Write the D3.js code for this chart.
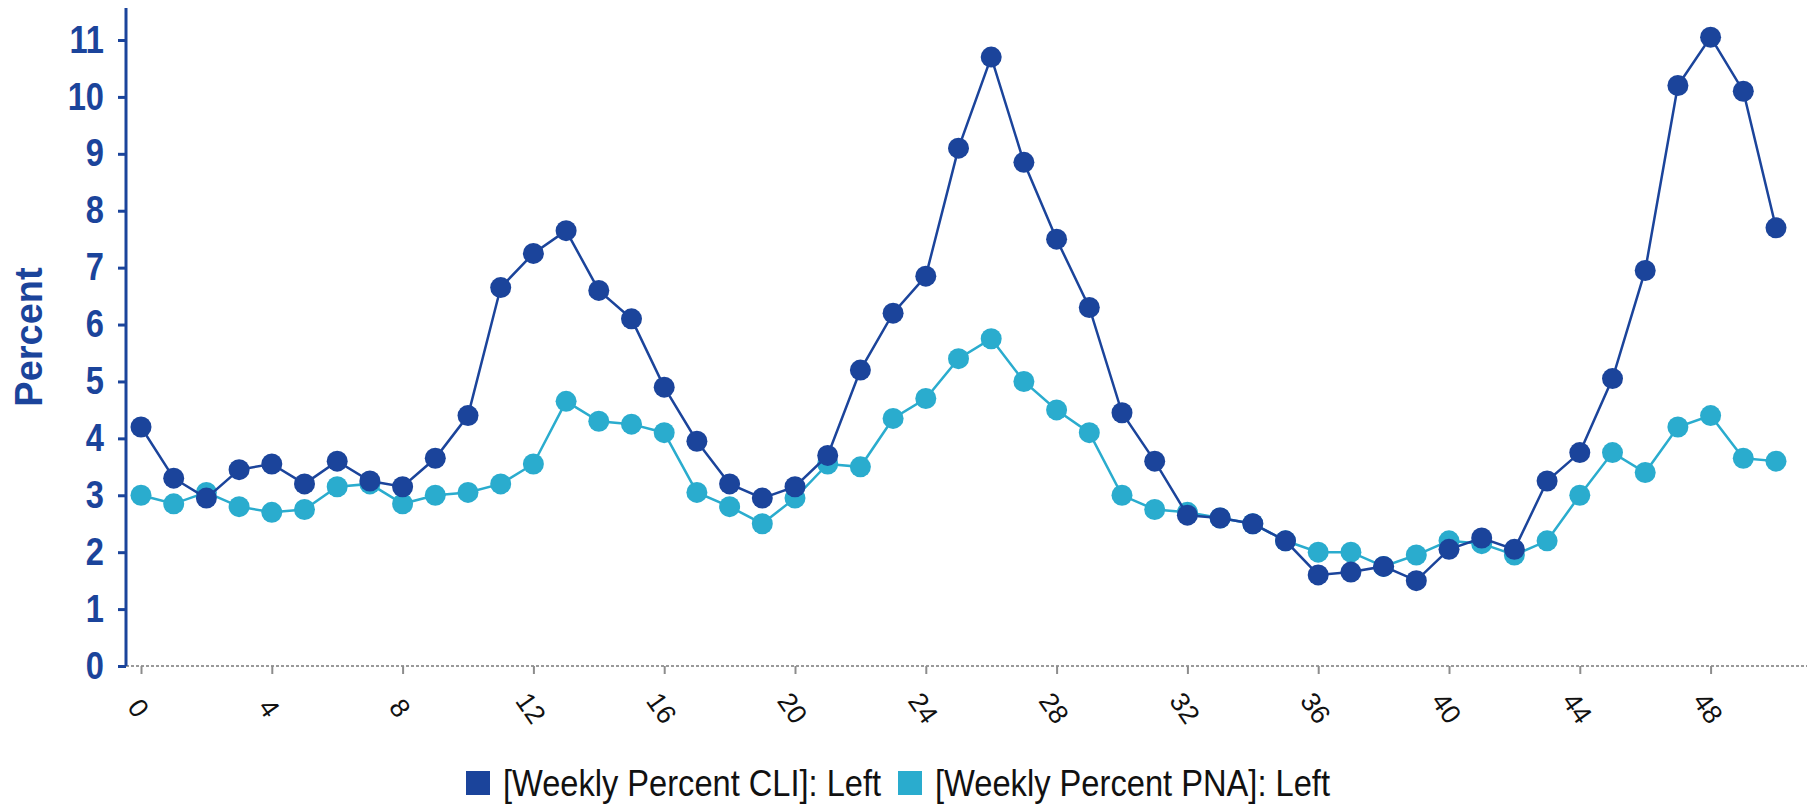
<!DOCTYPE html>
<html>
<head>
<meta charset="utf-8">
<script src="https://cdn.jsdelivr.net/npm/d3@7/dist/d3.min.js"></script>
<style>
  body { margin: 0; background: #ffffff; }
  text { font-family: "Liberation Sans", Arial, sans-serif; }
</style>
</head>
<body>
<div id="viz"></div>
<script>
// frame size and plot area
const F_WIDTH = 1807;
const F_HEIGHT = 804;
const MARGINS = {left: 141, right: 31, top: 40, bottom: 138};

const DARK = "#1b449b";
const LIGHT = "#2aacce";

// data
const WEEKS = [0, 1, 2, 3, 4, 5, 6, 7, 8, 9, 10, 11, 12, 13, 14, 15, 16, 17, 18, 19, 20,
               21, 22, 23, 24, 25, 26, 27, 28, 29, 30, 31, 32, 33, 34, 35, 36, 37, 38, 39, 40,
               41, 42, 43, 44, 45, 46, 47, 48, 49, 50];

const CLI = [4.2, 3.3, 2.95, 3.45, 3.55, 3.2, 3.6, 3.25, 3.15, 3.65, 4.4,
             6.65, 7.25, 7.65, 6.6, 6.1, 4.9, 3.95, 3.2, 2.95, 3.15,
             3.7, 5.2, 6.2, 6.85, 9.1, 10.7, 8.85, 7.5, 6.3, 4.45,
             3.6, 2.65, 2.6, 2.5, 2.2, 1.6, 1.65, 1.75, 1.5, 2.05,
             2.25, 2.05, 3.25, 3.75, 5.05, 6.95, 10.2, 11.05, 10.1, 7.7];

const PNA = [3.0, 2.85, 3.05, 2.8, 2.7, 2.75, 3.15, 3.2, 2.85, 3.0, 3.05,
             3.2, 3.55, 4.65, 4.3, 4.25, 4.1, 3.05, 2.8, 2.5, 2.95,
             3.55, 3.5, 4.35, 4.7, 5.4, 5.75, 5.0, 4.5, 4.1, 3.0,
             2.75, 2.7, 2.6, 2.5, 2.2, 2.0, 2.0, 1.75, 1.95, 2.2,
             2.15, 1.95, 2.2, 3.0, 3.75, 3.4, 4.2, 4.4, 3.65, 3.6];

const X_TICKS = [0, 4, 8, 12, 16, 20, 24, 28, 32, 36, 40, 44, 48];
const Y_TICKS = [0, 1, 2, 3, 4, 5, 6, 7, 8, 9, 10, 11];

const SERIES = [
  {name: "[Weekly Percent PNA]: Left", values: PNA, color: LIGHT},
  {name: "[Weekly Percent CLI]: Left", values: CLI, color: DARK}
];
const LEGEND_ORDER = [SERIES[1], SERIES[0]];

const FRAME = d3.select("#viz")
  .append("svg")
    .attr("width", F_WIDTH)
    .attr("height", F_HEIGHT);

// scales
const X_SCALE = d3.scaleLinear()
  .domain([0, 50])
  .range([MARGINS.left, F_WIDTH - MARGINS.right]);

const Y_SCALE = d3.scaleLinear()
  .domain([0, 11])
  .range([F_HEIGHT - MARGINS.bottom, MARGINS.top]);

const AXIS_X = 126;
const BASE_Y = Y_SCALE(0);

// x axis: grey dotted base line + ticks every 4
FRAME.append("line")
  .attr("x1", AXIS_X).attr("x2", F_WIDTH)
  .attr("y1", BASE_Y).attr("y2", BASE_Y)
  .attr("stroke", "#9a9a9a")
  .attr("stroke-width", 2)
  .attr("stroke-dasharray", "3,2");

const xAxis = FRAME.append("g")
  .attr("transform", "translate(0," + BASE_Y + ")")
  .call(d3.axisBottom(X_SCALE).tickValues(X_TICKS).tickSize(8));
xAxis.select(".domain").remove();
xAxis.selectAll(".tick line").attr("stroke", "#8c8c8c").attr("stroke-width", 2);
xAxis.selectAll(".tick text")
  .attr("fill", "#111")
  .style("font-size", "27px")
  .attr("text-anchor", "middle")
  .attr("x", 0)
  .attr("y", 0)
  .attr("dy", "0.35em")
  .attr("transform", "translate(-3,42) rotate(55)");

// y axis
FRAME.append("line")
  .attr("x1", AXIS_X).attr("x2", AXIS_X)
  .attr("y1", 8).attr("y2", BASE_Y)
  .attr("stroke", DARK)
  .attr("stroke-width", 3);

const Y_SQUEEZE = 0.86;
const yAxis = FRAME.append("g")
  .attr("transform", "translate(" + AXIS_X + ",0)")
  .call(d3.axisLeft(Y_SCALE).tickValues(Y_TICKS).tickSize(8).tickPadding(14));
yAxis.select(".domain").remove();
yAxis.selectAll(".tick line").attr("stroke", DARK).attr("stroke-width", 3);
yAxis.selectAll(".tick text")
  .attr("fill", DARK)
  .attr("x", -22 / Y_SQUEEZE)
  .attr("transform", "scale(" + Y_SQUEEZE + ",1)")
  .style("font-size", "38px")
  .style("font-weight", "bold");

FRAME.append("text")
  .attr("transform", "translate(42," + 337 + ") rotate(-90)")
  .attr("text-anchor", "middle")
  .attr("fill", DARK)
  .style("font-size", "38px")
  .style("font-weight", "bold")
  .text("Percent");

// lines and markers
const LINE = d3.line()
  .x((d, i) => X_SCALE(WEEKS[i]))
  .y((d) => Y_SCALE(d));

SERIES.forEach((s) => {
  FRAME.append("path")
    .datum(s.values)
    .attr("d", LINE)
    .attr("fill", "none")
    .attr("stroke", s.color)
    .attr("stroke-width", 2.5);

  FRAME.selectAll(null)
    .data(s.values)
    .enter()
    .append("circle")
      .attr("cx", (d, i) => X_SCALE(WEEKS[i]))
      .attr("cy", (d) => Y_SCALE(d))
      .attr("r", 10.5)
      .attr("fill", s.color);
});

// legend (text squeezed to the narrow face of the original)
const LEGEND_X = [466, 898];
const LEGEND_W = [378, 395];
const legend = FRAME.selectAll(".legend")
  .data(LEGEND_ORDER)
  .enter()
  .append("g")
    .attr("class", "legend")
    .attr("transform", (d, i) => "translate(" + LEGEND_X[i] + ",783)");

legend.append("rect")
  .attr("x", 0).attr("y", -12)
  .attr("width", 24).attr("height", 24)
  .attr("fill", (d) => d.color);

legend.append("text")
  .attr("x", 37)
  .attr("y", 13)
  .attr("fill", "#111")
  .attr("textLength", (d, i) => LEGEND_W[i])
  .attr("lengthAdjust", "spacingAndGlyphs")
  .style("font-size", "37px")
  .text((d) => d.name);
</script>
</body>
</html>
